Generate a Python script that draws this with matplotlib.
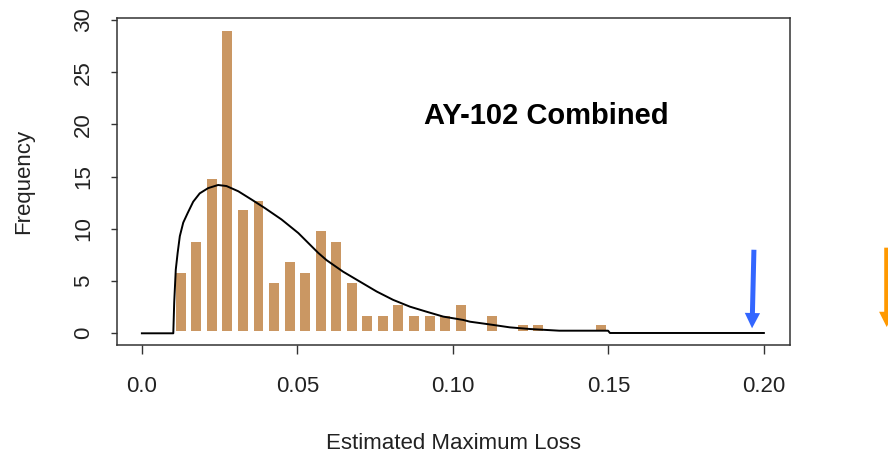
import matplotlib
matplotlib.use("Agg")
import matplotlib.pyplot as plt

plt.rcParams["font.family"] = ["Liberation Sans", "DejaVu Sans"]

# histogram bins (centre of each bin) and bar tops
bin_centers = [0.0125, 0.0175, 0.0225, 0.0275, 0.0325, 0.0375, 0.0425, 0.0475,
               0.0525, 0.0575, 0.0625, 0.0675, 0.0725, 0.0775, 0.0825, 0.0875,
               0.0925, 0.0975, 0.1025, 0.1125, 0.1225, 0.1275, 0.1475]
bar_tops = [5.8, 8.7, 14.8, 28.9, 11.8, 12.7, 4.8, 6.8,
            5.8, 9.8, 8.7, 4.8, 1.7, 1.7, 2.7, 1.7,
            1.7, 1.7, 2.7, 1.7, 0.8, 0.8, 0.8]

# fitted curve
curve_x = [0.0, 0.0101, 0.0104, 0.0109, 0.0115, 0.0122, 0.0133, 0.0147, 0.0165,
           0.0186, 0.0213, 0.0245, 0.0272, 0.031, 0.0353, 0.0395, 0.0449, 0.0503,
           0.054, 0.0567, 0.0594, 0.0647, 0.0701, 0.0755, 0.0808, 0.0862, 0.0915,
           0.0969, 0.1033, 0.1055, 0.1092, 0.113, 0.1183, 0.1248, 0.1342, 0.1499,
           0.1505, 0.2]
curve_y = [0, 0, 3.0, 6.1, 7.7, 9.3, 10.6, 11.5, 12.6,
           13.4, 13.9, 14.2, 14.1, 13.6, 12.8, 12.0, 10.9, 9.6,
           8.5, 7.7, 7.0, 5.9, 4.95, 4.0, 3.2, 2.55, 2.07,
           1.6, 1.28, 1.11, 0.96, 0.8, 0.57, 0.41, 0.25, 0.25,
           0.03, 0.03]

x_ticks = [0.0, 0.05, 0.10, 0.15, 0.20]
x_labels = ["0.0", "0.05", "0.10", "0.15", "0.20"]
y_ticks = [0, 5, 10, 15, 20, 25, 30]

BAR_COLOR = "#CA9763"
TXT = "#222222"
BASE = 0.25  # bars sit a hair above zero in the original

fig = plt.figure(figsize=(8.88, 4.53), dpi=100)
ax = fig.add_axes([117 / 888, 1 - 345 / 453, (790 - 117) / 888, (345 - 18) / 453])

ax.bar(bin_centers, [t - BASE for t in bar_tops], bottom=BASE, width=0.0032,
       color=BAR_COLOR, edgecolor="none", zorder=2)
ax.plot(curve_x, curve_y, color="black", linewidth=1.4, zorder=3)

ax.set_xlim(-0.008, 0.2084)
ax.set_ylim(-1.12, 30.19)

ax.set_xticks(x_ticks)
ax.set_xticklabels(x_labels)
ax.set_yticks(y_ticks)
ax.set_yticklabels([str(v) for v in y_ticks], rotation=90, va="center")

ax.tick_params(axis="x", direction="out", length=6.5, width=1.0, pad=16,
               labelsize=16, labelcolor=TXT, color="#333333")
ax.tick_params(axis="y", direction="out", length=4.5, width=1.0, pad=12,
               labelsize=16, labelcolor=TXT, color="#333333")

for sp in ax.spines.values():
    sp.set_linewidth(1.1)
    sp.set_color("#333333")

ax.set_xlabel("Estimated Maximum Loss", fontsize=16, color=TXT, labelpad=26)
ax.set_ylabel("Frequency", fontsize=16, color=TXT, labelpad=28)

ax.text(0.1301, 20.8, "AY-102 Combined", fontsize=21, fontweight="bold",
        ha="center", va="center", color="black")

# arrows
ax.annotate("", xy=(0.1962, 0.48), xytext=(0.1968, 8.0),
            arrowprops=dict(arrowstyle="simple,head_length=1.1,head_width=1.1,tail_width=0.36",
                            mutation_scale=10, color="#3366FF", lw=0, shrinkA=0, shrinkB=0),
            annotation_clip=False)
ax.annotate("", xy=(0.2395, 0.6), xytext=(0.2395, 8.2),
            arrowprops=dict(arrowstyle="simple,head_length=1.1,head_width=1.1,tail_width=0.36",
                            mutation_scale=10, color="#FF9900", lw=0, shrinkA=0, shrinkB=0,
                            clip_on=False),
            annotation_clip=False)

fig.savefig("out.png", dpi=100)
